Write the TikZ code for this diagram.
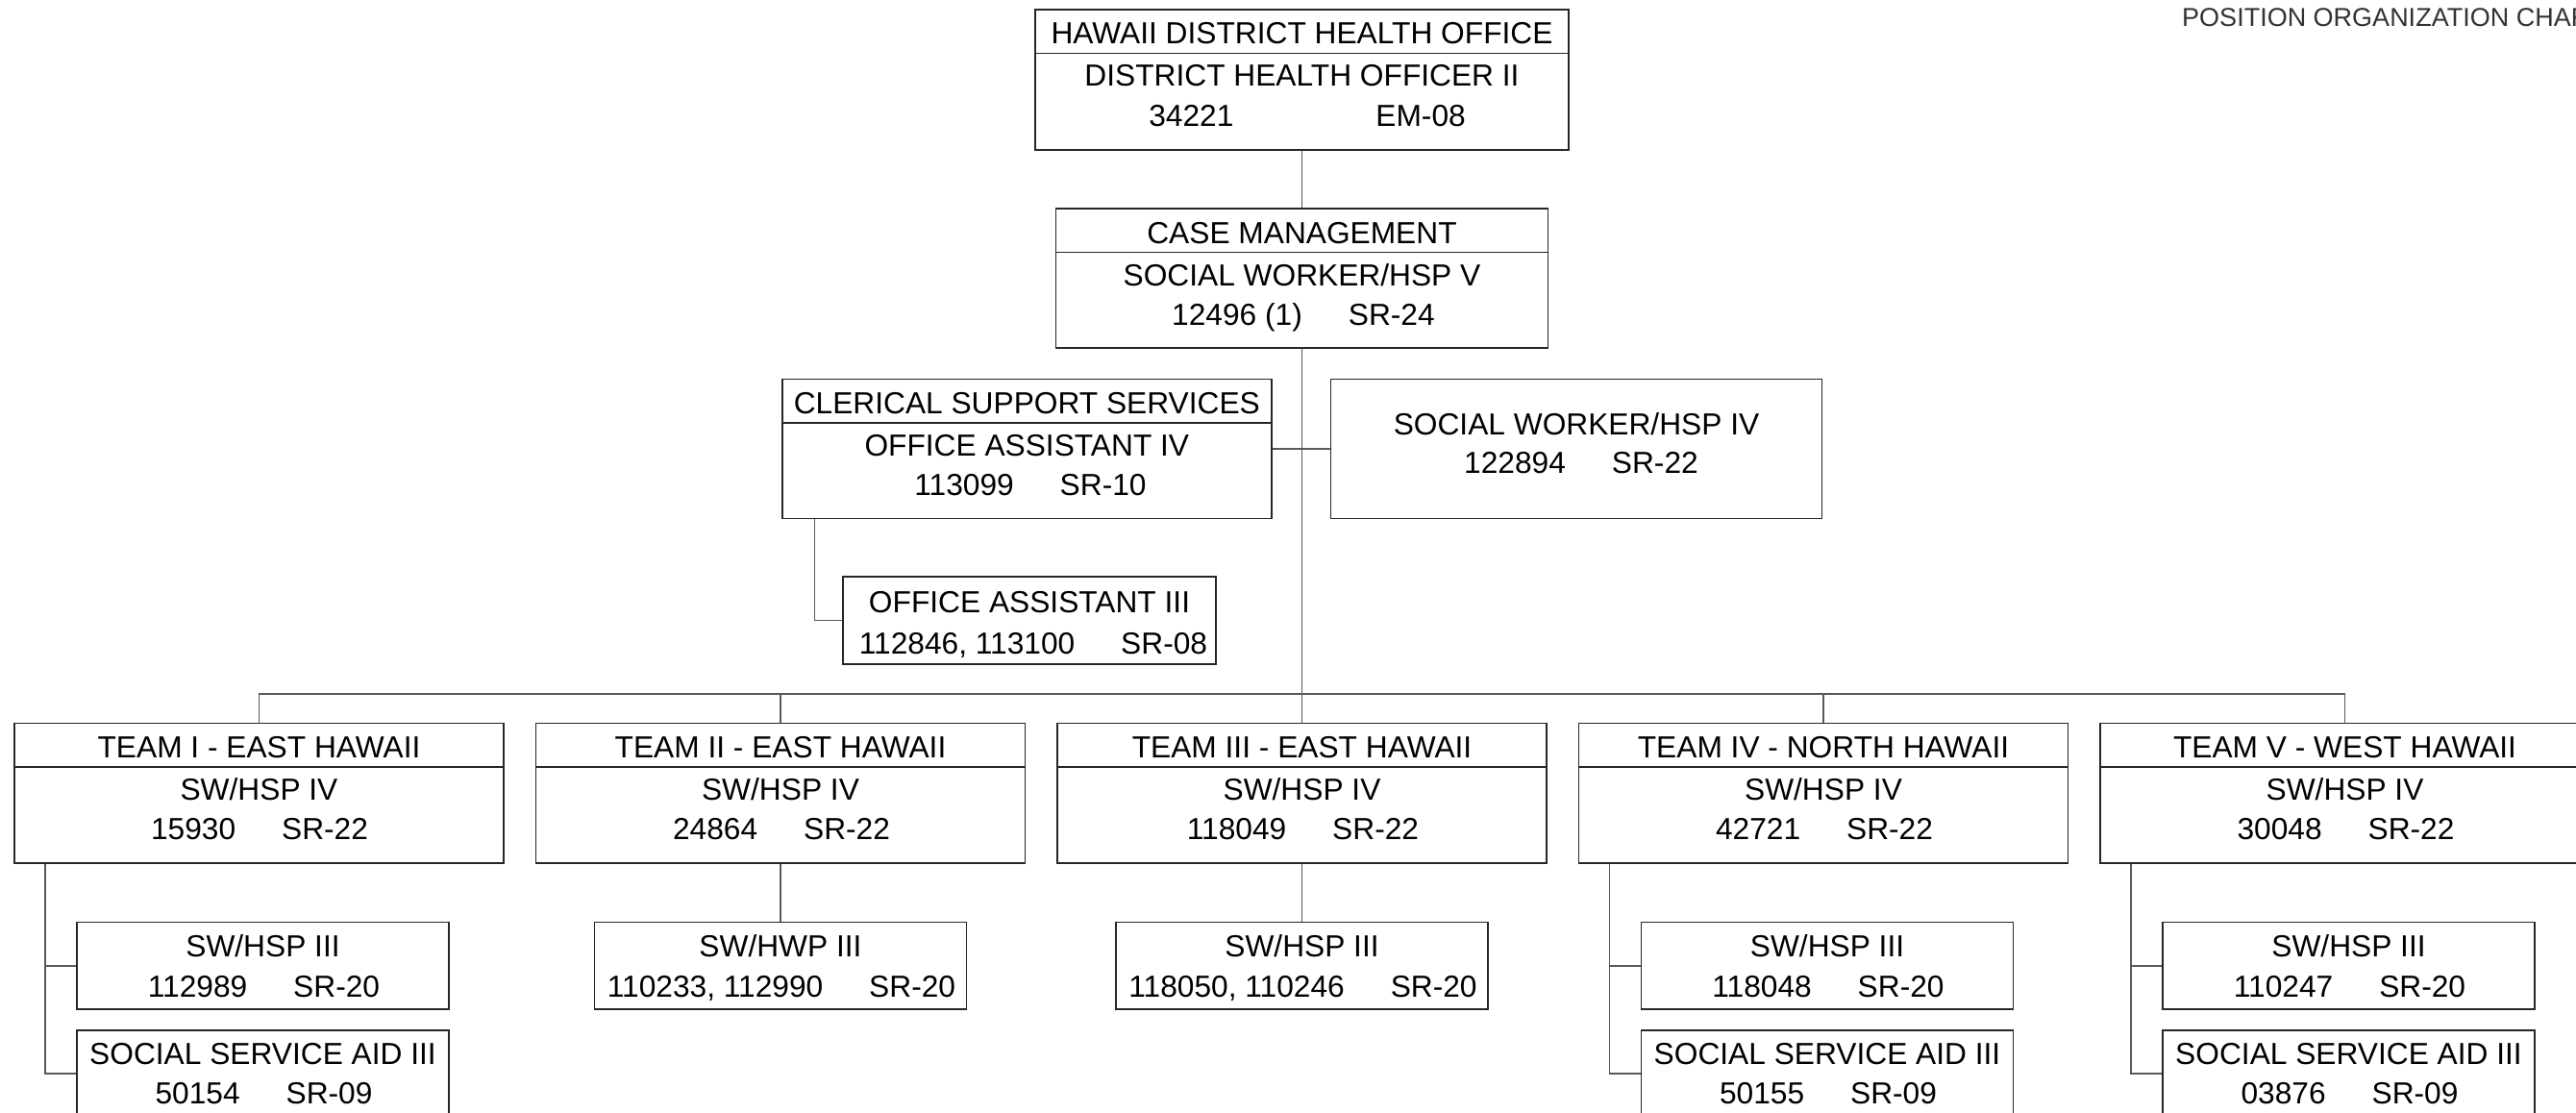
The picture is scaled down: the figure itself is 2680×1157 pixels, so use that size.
\documentclass[tikz,border=0pt]{standalone}
\usepackage{fontspec}
\setmainfont{Liberation Sans}
\usetikzlibrary{calc}
\newcommand\gp{\hspace{48pt}}
\newcommand\divline[1]{\draw[divl] ($(#1.north west)+(0,46.5)$) -- ($(#1.north east)+(0,46.5)$);}
\tikzset{
  box/.style={draw=black!85, line width=1.7pt, inner sep=0pt, rectangle},
  bigbox/.style={box, minimum width=509pt, minimum height=145.5pt},
  subbox/.style={box, minimum width=387pt, minimum height=90.5pt},
  divl/.style={draw=black!85, line width=1.6pt},
  conn/.style={draw=black!65, line width=1.6pt},
  txt/.style={anchor=base, inner sep=0pt, font=\fontsize{31.7}{37}\selectfont, text=black},
}
\begin{document}
\begin{tikzpicture}[x=1pt,y=-1pt]
\useasboundingbox (0,0) rectangle (2680,1157);
\clip (0,0) rectangle (2680,1157);
\fill[white] (0,0) rectangle (2680,1157);

\node[anchor=base west, inner sep=0pt, font=\fontsize{27}{30}\selectfont, text=black!80] (title) at (2270,27) {POSITION ORGANIZATION CHART};

% top box
\node[box, minimum width=555pt, minimum height=146pt] (top) at (1354.5,83) {};
\divline{top}
\node[txt] (topA) at (1354.5,45) {HAWAII DISTRICT HEALTH OFFICE};
\node[txt] (topB) at (1354.5,89) {DISTRICT HEALTH OFFICER II};
\node[txt] (topC) at (1360,131) {34221\hspace{148pt}EM-08};

% case management
\node[box, minimum width=512pt, minimum height=145pt] (case) at (1354.5,289.5) {};
\divline{case}
\node[txt] (caseA) at (1354.5,253) {CASE MANAGEMENT};
\node[txt] (caseB) at (1354.5,297) {SOCIAL WORKER/HSP V};
\node[txt] (caseC) at (1356,338) {12496 (1)\gp SR-24};

% clerical
\node[box, minimum width=509pt, minimum height=145pt] (cler) at (1068.3,467) {};
\divline{cler}
\node[txt] (clerA) at (1068.3,430) {CLERICAL SUPPORT SERVICES};
\node[txt] (clerB) at (1068.3,474) {OFFICE ASSISTANT IV};
\node[txt] (clerC) at (1072,515) {113099\gp SR-10};

% social worker IV
\node[box, minimum width=511pt, minimum height=145pt] (swiv) at (1640,467) {};
\node[txt] (swivA) at (1640,452) {SOCIAL WORKER/HSP IV};
\node[txt] (swivB) at (1645,492) {122894\gp SR-22};

% office assistant III
\node[subbox, minimum width=388pt] (oa3) at (1071,645.5) {};
\node[txt] (oa3A) at (1071,637) {OFFICE ASSISTANT III};
\node[txt] (oa3B) at (1075,680) {112846, 113100\gp SR-08};

% teams
\node[bigbox] (t1) at (269.5,825.25) {};
\node[bigbox] (t2) at (812,825.25) {};
\node[bigbox] (t3) at (1354.5,825.25) {};
\node[bigbox] (t4) at (1897,825.25) {};
\node[bigbox] (t5) at (2439.5,825.25) {};
\divline{t1}\divline{t2}\divline{t3}\divline{t4}\divline{t5}

\node[txt] (t1A) at (269.5,788) {TEAM I - EAST HAWAII};
\node[txt] (t1B) at (269.5,832) {SW/HSP IV};
\node[txt] (t1C) at (270,873) {15930\gp SR-22};
\node[txt] (t2A) at (812,788) {TEAM II - EAST HAWAII};
\node[txt] (t2B) at (812,832) {SW/HSP IV};
\node[txt] (t2C) at (813,873) {24864\gp SR-22};
\node[txt] (t3A) at (1354.5,788) {TEAM III - EAST HAWAII};
\node[txt] (t3B) at (1354.5,832) {SW/HSP IV};
\node[txt] (t3C) at (1355.5,873) {118049\gp SR-22};
\node[txt] (t4A) at (1897,788) {TEAM IV - NORTH HAWAII};
\node[txt] (t4B) at (1897,832) {SW/HSP IV};
\node[txt] (t4C) at (1898,873) {42721\gp SR-22};
\node[txt] (t5A) at (2439.5,788) {TEAM V - WEST HAWAII};
\node[txt] (t5B) at (2439.5,832) {SW/HSP IV};
\node[txt] (t5C) at (2440.5,873) {30048\gp SR-22};

% sub boxes
\node[subbox] (s1) at (273.5,1004.75) {};
\node[txt] (s1A) at (273.5,995) {SW/HSP III};
\node[txt] (s1B) at (274.5,1037) {112989\gp SR-20};
\node[subbox] (a1) at (273.5,1117) {};
\node[txt] (a1A) at (273.5,1107) {SOCIAL SERVICE AID III};
\node[txt] (a1B) at (274.5,1148) {50154\gp SR-09};

\node[subbox] (s2) at (812,1004.75) {};
\node[txt] (s2A) at (812,995) {SW/HWP III};
\node[txt] (s2B) at (813,1037) {110233, 112990\gp SR-20};

\node[subbox] (s3) at (1354.5,1004.75) {};
\node[txt] (s3A) at (1354.5,995) {SW/HSP III};
\node[txt] (s3B) at (1355.5,1037) {118050, 110246\gp SR-20};

\node[subbox] (s4) at (1901,1004.75) {};
\node[txt] (s4A) at (1901,995) {SW/HSP III};
\node[txt] (s4B) at (1902,1037) {118048\gp SR-20};
\node[subbox] (a4) at (1901,1117) {};
\node[txt] (a4A) at (1901,1107) {SOCIAL SERVICE AID III};
\node[txt] (a4B) at (1902,1148) {50155\gp SR-09};

\node[subbox] (s5) at (2443.5,1004.75) {};
\node[txt] (s5A) at (2443.5,995) {SW/HSP III};
\node[txt] (s5B) at (2444.5,1037) {110247\gp SR-20};
\node[subbox] (a5) at (2443.5,1117) {};
\node[txt] (a5A) at (2443.5,1107) {SOCIAL SERVICE AID III};
\node[txt] (a5B) at (2444.5,1148) {03876\gp SR-09};

% connectors
\coordinate (bus) at (1354.5,722);
\draw[conn] (top.south) -- (case.north);
\draw[conn] (case.south) -- (bus);
\draw[conn] (cler.east) -- (swiv.west);
\coordinate (cb) at ([xshift=34.5pt]cler.south west);
\draw[conn] (cb) |- (oa3.west);
\draw[conn] (t1.north) -- (t1.north |- bus) -- (t5.north |- bus) -- (t5.north);
\draw[conn] (t2.north) -- (t2.north |- bus);
\draw[conn] (t3.north) -- (t3.north |- bus);
\draw[conn] (t4.north) -- (t4.north |- bus);
\draw[conn] (t2.south) -- (s2.north);
\draw[conn] (t3.south) -- (s3.north);
\coordinate (b1) at ([xshift=33pt]t1.south west);
\coordinate (b4) at ([xshift=33pt]t4.south west);
\coordinate (b5) at ([xshift=33pt]t5.south west);
\draw[conn] (b1) |- (a1.west);
\draw[conn] (s1.west) -- (s1.west -| b1);
\draw[conn] (b4) |- (a4.west);
\draw[conn] (s4.west) -- (s4.west -| b4);
\draw[conn] (b5) |- (a5.west);
\draw[conn] (s5.west) -- (s5.west -| b5);
\end{tikzpicture}
\end{document}
